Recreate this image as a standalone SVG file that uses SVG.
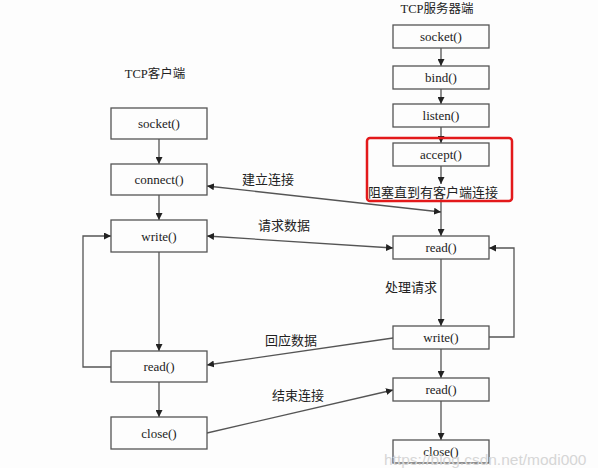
<svg xmlns="http://www.w3.org/2000/svg" width="598" height="468" viewBox="0 0 598 468">
<style>
.box{fill:#fdfdfd;stroke:#555;stroke-width:1.3}
.bt{font-family:"Liberation Serif","Noto Serif",serif;font-size:13px;fill:#222;text-anchor:middle;dominant-baseline:central}
.lbl{font-family:"Noto Sans CJK SC","Noto Sans",sans-serif;font-size:13px;fill:#222;dominant-baseline:central}
.ttl{font-family:"Liberation Serif","Noto Sans CJK SC",serif;font-size:12.5px;fill:#222;text-anchor:middle;dominant-baseline:central}
.ln{fill:none;stroke:#555;stroke-width:1.3}
.ar{marker-end:url(#ah)}
.dar{marker-start:url(#ahs);marker-end:url(#ah)}
.sar{marker-start:url(#ahs)}
</style>
<defs>
<marker id="ah" viewBox="0 0 10 10" refX="10" refY="5" markerWidth="7" markerHeight="7" markerUnits="userSpaceOnUse" orient="auto"><path d="M0,0L10,5L0,10z" fill="#222"/></marker>
<marker id="ahs" viewBox="0 0 10 10" refX="0" refY="5" markerWidth="7" markerHeight="7" markerUnits="userSpaceOnUse" orient="auto"><path d="M10,0L0,5L10,10z" fill="#222"/></marker>
</defs>
<rect width="598" height="468" fill="#fdfdfd"/>
<text class="ttl" x="437" y="9">TCP服务器端</text>
<text class="ttl" x="155" y="74">TCP客户端</text>
<g id="connectors">
<line class="ln ar" x1="441" y1="48" x2="441" y2="66"/>
<line class="ln ar" x1="441" y1="89" x2="441" y2="104"/>
<line class="ln ar" x1="441" y1="127" x2="441" y2="143"/>
<line class="ln ar" x1="441" y1="166" x2="441" y2="184"/>
<line class="ln ar" x1="441" y1="199" x2="441" y2="236"/>
<line class="ln ar" x1="441" y1="259" x2="441" y2="326"/>
<line class="ln ar" x1="441" y1="349" x2="441" y2="378"/>
<line class="ln ar" x1="441" y1="401" x2="441" y2="440"/>
<polyline class="ln ar" points="489,337 514,337 514,248 489,248"/>
<line class="ln ar" x1="159" y1="139" x2="159" y2="164"/>
<line class="ln ar" x1="159" y1="195" x2="159" y2="220"/>
<line class="ln ar" x1="159" y1="252" x2="159" y2="351"/>
<line class="ln ar" x1="159" y1="382" x2="159" y2="417"/>
<polyline class="ln ar" points="111,367 83,367 83,236 111,236"/>
<line class="ln dar" x1="207" y1="186" x2="441" y2="212"/>
<line class="ln dar" x1="207" y1="236" x2="393" y2="248"/>
<line class="ln sar" x1="207" y1="365" x2="393" y2="338"/>
<line class="ln ar" x1="207" y1="433" x2="393" y2="390"/>
<text class="lbl" x="242" y="178">建立连接</text>
<text class="lbl" x="258" y="224">请求数据</text>
<text class="lbl" x="265" y="339">回应数据</text>
<text class="lbl" x="272" y="394">结束连接</text>
<text class="lbl" x="385" y="286">处理请求</text>
</g>
<g id="s_socket"><rect class="box" x="393" y="25" width="96" height="23"/><text class="bt" x="441" y="36.5">socket()</text></g>
<g id="s_bind"><rect class="box" x="393" y="66" width="96" height="23"/><text class="bt" x="441" y="77.5">bind()</text></g>
<g id="s_listen"><rect class="box" x="393" y="104" width="96" height="23"/><text class="bt" x="441" y="115.5">listen()</text></g>
<g id="s_accept"><rect class="box" x="393" y="143" width="96" height="23"/><text class="bt" x="441" y="154.5">accept()</text></g>
<g id="s_block"><rect x="367" y="138" width="145" height="63" rx="3" fill="none" stroke="#e3191b" stroke-width="2.5"/><text class="lbl" x="368" y="191" font-size="13">阻塞直到有客户端连接</text></g>
<g id="s_read"><rect class="box" x="393" y="236" width="96" height="23"/><text class="bt" x="441" y="247.5">read()</text></g>
<g id="s_write"><rect class="box" x="393" y="326" width="96" height="23"/><text class="bt" x="441" y="337.5">write()</text></g>
<g id="s_read2"><rect class="box" x="393" y="378" width="96" height="23"/><text class="bt" x="441" y="389.5">read()</text></g>
<g id="s_close"><rect class="box" x="393" y="440" width="96" height="23"/><text class="bt" x="441" y="451.5">close()</text></g>
<g id="c_socket"><rect class="box" x="111" y="108" width="96" height="31"/><text class="bt" x="159" y="123.5">socket()</text></g>
<g id="c_connect"><rect class="box" x="111" y="164" width="96" height="31"/><text class="bt" x="159" y="179.5">connect()</text></g>
<g id="c_write"><rect class="box" x="111" y="220" width="96" height="32"/><text class="bt" x="159" y="236">write()</text></g>
<g id="c_read"><rect class="box" x="111" y="351" width="96" height="31"/><text class="bt" x="159" y="366.5">read()</text></g>
<g id="c_close"><rect class="box" x="111" y="417" width="96" height="32"/><text class="bt" x="159" y="433">close()</text></g>
<text x="384" y="459" font-family="Liberation Sans,sans-serif" font-size="15.5" fill="#d6d6d6" dominant-baseline="central">https://blog.csdn.net/modi000</text>
</svg>
